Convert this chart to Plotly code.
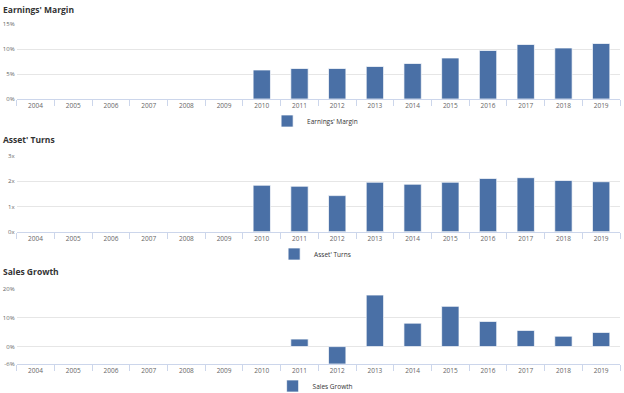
import plotly.graph_objects as go

years = [str(y) for y in range(2004, 2020)]
earnings_margin = [None, None, None, None, None, None, 5.8, 6.1, 6.1, 6.5, 7.1, 8.2, 9.7, 10.9, 10.2, 11.1]
asset_turns = [None, None, None, None, None, None, 1.84, 1.80, 1.43, 1.96, 1.88, 1.96, 2.11, 2.14, 2.03, 1.98]
sales_growth = [None, None, None, None, None, None, None, 2.6, -6.0, 17.8, 8.1, 13.9, 8.7, 5.6, 3.6, 4.9]

titles = ["Earnings' Margin", "Asset' Turns", "Sales Growth"]
series_names = ["Earnings' Margin", "Asset' Turns", "Sales Growth"]
y_ranges = [[0, 15], [0, 3], [-6, 20]]
y_ticks = [[0, 5, 10, 15], [0, 1, 2, 3], [-6, 0, 10, 20]]
y_ticktext = [["0%", "5%", "10%", "15%"], ["0x", "1x", "2x", "3x"], ["-6%", "0%", "10%", "20%"]]

W, H = 624, 393
BAR = "#4a70a6"

def py(px):
    return 1 - px / H

# pixel layout of panels: (top, bottom) of plot area, title y, legend y
panels = [
    (24, 99, 9, 121),
    (156, 231.7, 139, 254),
    (288.7, 364, 271, 386),
]
x0, x1 = 16.7 / W, 620 / W

fig = go.Figure()
data = [earnings_margin, asset_turns, sales_growth]
layout = dict(
    width=W, height=H,
    margin=dict(l=0, r=0, t=0, b=0, autoexpand=False),
    paper_bgcolor="white", plot_bgcolor="white",
    bargap=0.54,
    font=dict(family="Open Sans", size=7, color="#666666"),
    showlegend=True,
)
annotations = []
for i in range(3):
    ax = "" if i == 0 else str(i + 1)
    top, bot, ty, ly = panels[i]
    lg = "legend" if i == 0 else f"legend{i + 1}"
    fig.add_trace(go.Bar(
        x=years, y=data[i], name=series_names[i],
        marker=dict(color=BAR, line=dict(color="rgba(255,255,255,0.7)", width=1)),
        xaxis="x" + ax, yaxis="y" + ax, legend=lg,
    ))
    layout["xaxis" + ax] = dict(
        domain=[x0, x1], anchor="y" + ax, type="category",
        showline=True, linecolor="#ccd6eb", linewidth=1,
        ticks="outside", tickson="boundaries", ticklen=6, tickcolor="#ccd6eb",
        showgrid=False, tickfont=dict(size=6.5, color="#666666"),
        fixedrange=True, automargin=False,
    )
    layout["yaxis" + ax] = dict(
        domain=[py(bot), py(top)], anchor="x" + ax,
        range=y_ranges[i], tickvals=y_ticks[i], ticktext=y_ticktext[i],
        showgrid=True, gridcolor="#e6e6e6", gridwidth=1,
        zeroline=False, showline=False, ticks="", ticklabelstandoff=1,
        tickfont=dict(size=6, color="#666666"), fixedrange=True, automargin=False,
    )
    layout[lg] = dict(
        orientation="h", x=0.505, xanchor="center", y=py(ly), yanchor="middle",
        font=dict(size=6.5, color="#333333"), bgcolor="rgba(0,0,0,0)",
        itemwidth=30,
    )
    annotations.append(dict(
        text=f"<b>{titles[i]}</b>", x=1 / W, y=py(ty), xref="paper", yref="paper",
        xanchor="left", yanchor="middle", showarrow=False,
        font=dict(family="Open Sans", size=8.5, color="#333333"),
    ))
layout["annotations"] = annotations
fig.update_layout(**layout)
fig.write_html("out.html", post_script="document.body.style.margin='0';",
               config={"displayModeBar": False})
